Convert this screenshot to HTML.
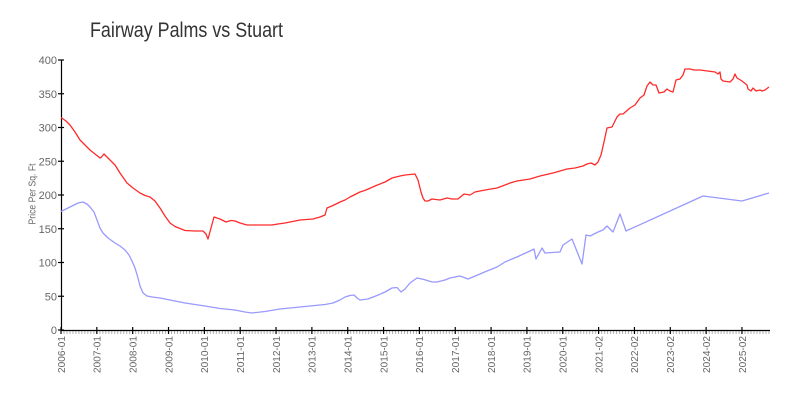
<!DOCTYPE html>
<html><head><meta charset="utf-8"><style>
html,body{margin:0;padding:0;background:#fff;}
svg{display:block;}
text{font-family:"Liberation Sans",sans-serif;}
</style></head><body>
<svg width="800" height="400" viewBox="0 0 800 400" xmlns="http://www.w3.org/2000/svg">
<rect width="800" height="400" fill="#fff"/>
<text x="90" y="37" font-size="21" fill="#333" textLength="193" lengthAdjust="spacingAndGlyphs">Fairway Palms vs Stuart</text>
<text transform="translate(35.5,194) rotate(-90)" text-anchor="middle" font-size="10" fill="#666" textLength="61" lengthAdjust="spacingAndGlyphs">Price Per Sq. Ft</text>
<g id="minor" stroke="#b0b0b0" stroke-width="1"></g>
<g stroke="#000" stroke-width="1.2" fill="none">
<line x1="61.5" y1="60" x2="61.5" y2="331"/>
<line x1="61" y1="330.5" x2="770" y2="330.5"/>
</g>
<g stroke="#000" stroke-width="1.2">
<line x1="58" y1="60" x2="64" y2="60"/>
<line x1="58" y1="93.75" x2="64" y2="93.75"/>
<line x1="58" y1="127.5" x2="64" y2="127.5"/>
<line x1="58" y1="161.25" x2="64" y2="161.25"/>
<line x1="58" y1="195" x2="64" y2="195"/>
<line x1="58" y1="228.75" x2="64" y2="228.75"/>
<line x1="58" y1="262.5" x2="64" y2="262.5"/>
<line x1="58" y1="296.25" x2="64" y2="296.25"/>
<line x1="58" y1="330" x2="64" y2="330"/>
</g>
<g font-size="11" fill="#666" text-anchor="end">
<text x="57" y="64">400</text>
<text x="57" y="97.75">350</text>
<text x="57" y="131.5">300</text>
<text x="57" y="165.25">250</text>
<text x="57" y="199">200</text>
<text x="57" y="232.75">150</text>
<text x="57" y="266.5">100</text>
<text x="57" y="300.25">50</text>
<text x="57" y="334">0</text>
</g>
<g id="xt" stroke="#000" stroke-width="1.2"></g>
<g id="xl" font-size="10.5" fill="#666" text-anchor="end"></g>
<polyline fill="none" stroke="#9999ff" stroke-width="1.3" stroke-linejoin="round" points="61,211.5 66,209 72,206 78,203 83,202 87,204 90,207 94,212 97,220 100,228 103,233 108,238 115,243 120,246 125,250 129,255 132,261 135,268 138,278 140,286 143,293 147,296 152,297 160,298 170,300 185,303 195,304.5 205,306 220,308.5 235,310 245,312 252,313 265,311.5 280,309 295,307.5 310,306 325,304.5 333,303 340,300 345,297 350,295.5 354,295 357,298 360,300 368,299 377,295.5 385,292 392,288 397,287.5 401,292 405,289 410,283 417,278 424,279.5 432,282 437,282 445,280 450,278 460,276 464,277.5 468,279 474,276.5 480,274 487,271 497,267 505,262 518,256.5 530,251 534,249 536,259 542,248 545,253 560,252 563,245 572,239 582,264 586,235 590,236 598,232 603,230 607,226 613,232 620,214 626,231 703,196 742,201 769,193"/>
<polyline fill="none" stroke="#ff2a2a" stroke-width="1.3" stroke-linejoin="round" points="61,117.5 66,121 70,125 75,132 80,140 85,145 90,150 95,154 100,158 101,157.5 104,154 109,159 115,165 120,173 127,183 133,188 140,193 145,195.5 150,197 155,201 160,208 165,216 170,223 175,226.5 180,228.5 185,230.5 195,231 203,231 206,234 208,239 211,228 214,217 220,219 226,222 231,220.5 235,221 240,223 247,225 260,225 272,225 278,224 285,223 300,220 313,219 320,217 325,215 327,208 333,205.5 340,202 345,200 350,197 360,192 366,190 375,186 385,182 392,178 400,176 405,175 415,174 418,180 421,192 423,198 425,201 428,201 432,199 440,200 447,198 452,199 458,199 464,194 470,195 475,192 485,190 497,188 505,185 510,183 517,181 530,179 540,176 553,173 567,169 575,168 583,166 587,164 591,163 595,165 598,162 601,155 604,142 607,128 612,127 617,117 620,114 623,114 630,108 635,105 640,98 644,95 647,86 650,82 653,85 656,85 659,93 664,92 667,89 670,91 673,92 676,80 680,79 683,75 685,69 690,69 694,70 700,70 715,72 718,74 720,72 721,79 723,81 730,82 733,79 735,74 737,78 742,81 747,85 748,89 751,91 753,88 756,91 760,90 762,91 765,90 769,87"/>
</svg>
<script>
(function(){
var ns="http://www.w3.org/2000/svg";
var minor=document.getElementById("minor");
for(var x=61;x<=770;x+=2.987){
 var l=document.createElementNS(ns,"line");
 l.setAttribute("x1",x.toFixed(2));l.setAttribute("x2",x.toFixed(2));
 l.setAttribute("y1","331");l.setAttribute("y2","334");
 minor.appendChild(l);
}
var labels=["2006-01","2007-01","2008-01","2009-01","2010-01","2011-01","2012-01","2013-01","2014-01","2015-01","2016-01","2017-01","2018-01","2019-01","2020-01","2021-02","2022-02","2023-02","2024-02","2025-02"];
var xt=document.getElementById("xt"),xl=document.getElementById("xl");
for(var i=0;i<labels.length;i++){
 var x=61+i*35.84;
 var l=document.createElementNS(ns,"line");
 l.setAttribute("x1",x.toFixed(2));l.setAttribute("x2",x.toFixed(2));
 l.setAttribute("y1","327");l.setAttribute("y2","334");
 xt.appendChild(l);
 var t=document.createElementNS(ns,"text");
 t.setAttribute("transform","translate("+(x+3.8).toFixed(2)+",336) rotate(-90)");
 t.setAttribute("textLength","37");
 t.setAttribute("lengthAdjust","spacingAndGlyphs");
 t.textContent=labels[i];
 xl.appendChild(t);
}
})();
</script>
</body></html>
